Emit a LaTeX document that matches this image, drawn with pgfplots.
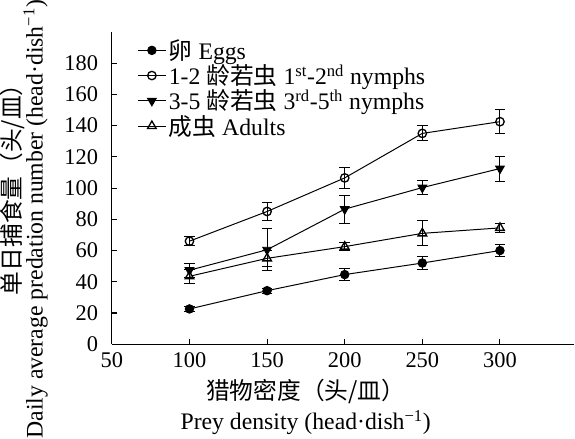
\documentclass[border=0pt]{standalone}
\usepackage{pgfplots}
\pgfplotsset{compat=1.18}
\usepackage{fontspec}
\setmainfont{Liberation Serif}
\newfontfamily\cjk{Noto Sans CJK SC}
\begin{document}
\begin{tikzpicture}
\begin{axis}[
  scale only axis,
  width=351pt, height=237pt,
  xmin=50, xmax=348, ymin=0, ymax=200,
  axis lines=left, axis line style={-, line width=0.8pt},
  xtick={50,100,...,300}, ytick={0,20,...,180},
  tick align=inside, major tick length=4pt,
  tick style={line width=0.8pt, black},
  /pgf/number format/assume math mode=true,
  ticklabel style={font=\fontsize{17}{19}\selectfont},
  xticklabel style={yshift=-3pt},
  yticklabel style={xshift=-7pt},
  xlabel={{\cjk 猎物密度（头/皿）}\\Prey density (head·dish\textsuperscript{−1})},
  xlabel style={align=center, inner sep=0pt, font={\fontsize{18}{23}\selectfont\lineskiplimit=-20pt}, at={(ticklabel cs:0.419)}, anchor=near ticklabel, yshift=-5pt},
  ylabel={\hspace*{54pt}{\cjk 单日捕食量（头/皿）}\\Daily average predation number (head·dish\textsuperscript{−1})},
  ylabel style={align=center, inner sep=0pt, font={\fontsize{18}{17}\selectfont\lineskiplimit=-20pt}, at={(ticklabel cs:0.40)}, anchor=near ticklabel, yshift=9pt},
  legend style={at={(rel axis cs:0.055,0.985)}, anchor=north west, draw=none, fill=none,
     font=\fontsize{18}{19.5}\selectfont, row sep=-1.5pt, inner sep=0pt},
  legend cell align=left,
  legend image code/.code={\draw[mark repeat=2,mark phase=2,#1] plot coordinates {(0pt,0pt)(10.5pt,0pt)(21pt,0pt)};},
  every axis plot/.append style={black, line width=0.75pt, mark options={solid}},
  error bars/error bar style={line width=0.75pt, black},
  error bars/error mark options={rotate=90, mark size=4pt, line width=0.75pt, black},
]
\addplot[mark=*, mark size=3.2pt, error bars/.cd, y dir=both, y explicit]
  table[x=x, y=y, y error=e] {
x y e
100 22.6 1.5
150 34.3 1.5
200 44.6 3.7
250 52.0 4.0
300 60.0 4.0
};
\addlegendentry{{\cjk 卵} Eggs}
\addplot[mark=o, mark size=3.2pt, mark options={fill=white, line width=1pt}, error bars/.cd, y dir=both, y explicit]
  table[x=x, y=y, y error=e] {
x y e
100 66.0 3.0
150 85.0 5.8
200 106.5 6.5
250 135.0 4.8
300 142.5 7.5
};
\addlegendentry{1-2 {\cjk 龄若虫} 1\textsuperscript{st}-2\textsuperscript{nd} nymphs}
\addplot[mark=triangle*, mark size=3.8pt, mark options={rotate=180}, error bars/.cd, y dir=both, y explicit]
  table[x=x, y=y, y error=e] {
x y e
100 47.4 4.5
150 60.5 13.5
200 86.5 9.0
250 100.3 4.5
300 112.5 8.0
};
\addlegendentry{3-5 {\cjk 龄若虫} 3\textsuperscript{rd}-5\textsuperscript{th} nymphs}
\addplot[mark=triangle, mark size=3.8pt, mark options={fill=white, line width=1pt}, error bars/.cd, y dir=both, y explicit]
  table[x=x, y=y, y error=e] {
x y e
100 43.5 4.5
150 55.0 5.0
200 62.5 2.5
250 71.0 8.0
300 74.5 3.0
};
\addlegendentry{{\cjk 成虫} Adults}
\end{axis}
\end{tikzpicture}
\end{document}
